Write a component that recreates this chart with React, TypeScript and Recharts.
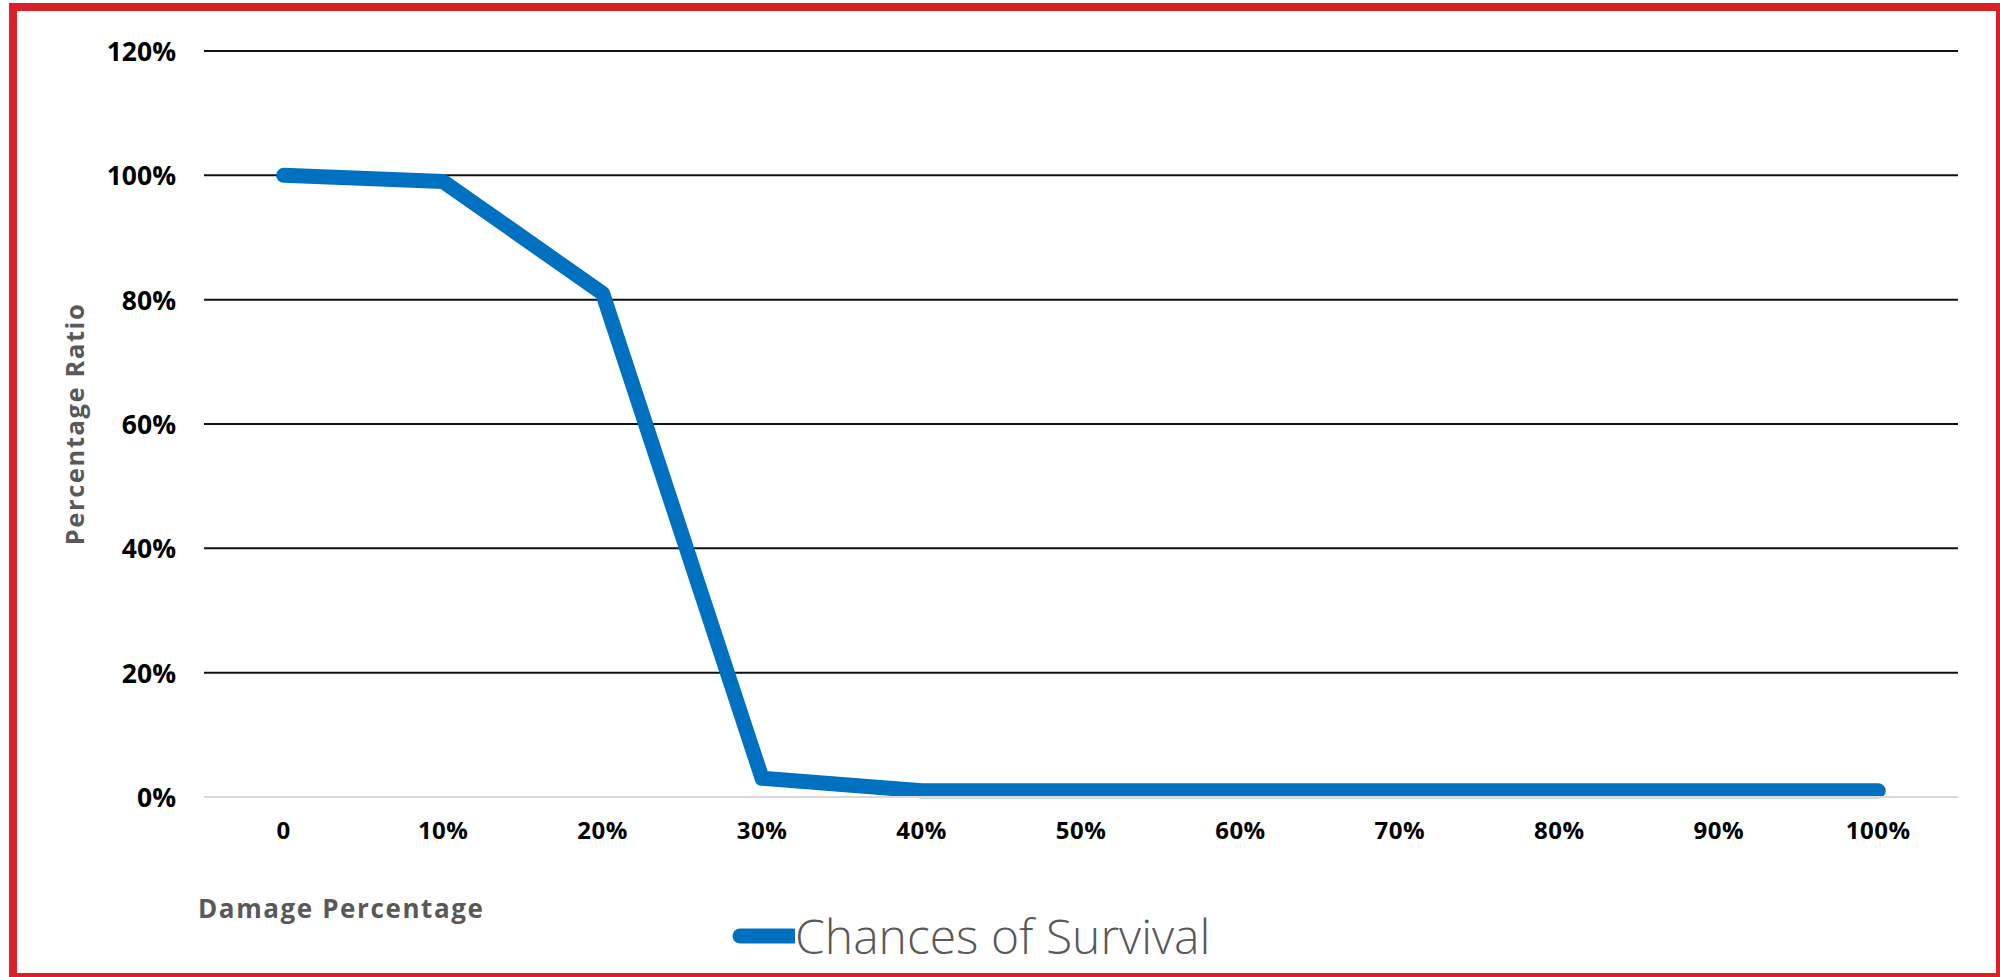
import React from 'react';
import { LineChart, Line, XAxis, YAxis, ReferenceLine } from 'recharts';

const damageLevels = ['0', '10%', '20%', '30%', '40%', '50%', '60%', '70%', '80%', '90%', '100%'];
const survival = [100, 99, 81, 3, 1, 1, 1, 1, 1, 1, 1];
const yTicks = [0, 20, 40, 60, 80, 100, 120];

const data = damageLevels.map((d, i) => ({ damage: d, survival: survival[i] }));

const font = '"Open Sans", sans-serif';
const blue = '#0070c0';
const grey = '#595959';

// plot spans x 204..1958, so each category band is 1754 / 11 wide
const halfBand = 1754 / 11 / 2;

const XTick = (p: any) => (
  <text x={p.x} y={p.y} textAnchor="middle" dominantBaseline="central" fontFamily={font} fontWeight={700} fontSize={24} letterSpacing={0.5} fill="#000">
    {p.payload.value}
  </text>
);

const YTick = (p: any) => (
  <text x={p.x} y={p.y} textAnchor="end" dominantBaseline="central" fontFamily={font} fontWeight={700} fontSize={26.5} fill="#000">
    {p.payload.value}%
  </text>
);

const XTitle = (p: any) => {
  const vb = p.viewBox;
  return (
    <text x={vb.x - 6} y={vb.y + 111} dominantBaseline="central" fontFamily={font} fontWeight={700} fontSize={26} letterSpacing={1.6} fill={grey}>
      Damage Percentage
    </text>
  );
};

const YTitle = (p: any) => {
  const vb = p.viewBox;
  const cx = 74;
  const cy = vb.y + vb.height / 2;
  return (
    <text x={cx} y={cy} transform={`rotate(-90 ${cx} ${cy})`} textAnchor="middle" dominantBaseline="central" fontFamily={font} fontWeight={700} fontSize={25.5} letterSpacing={1.6} fill={grey}>
      Percentage Ratio
    </text>
  );
};

export default function App() {
  return (
    <div style={{ position: 'absolute', left: 0, top: 0, width: 2000, height: 977, overflow: 'hidden', background: '#fff' }}>
      <div style={{ position: 'absolute', left: 9, top: 3, width: 1995, height: 978, border: '8px solid #db2128', boxSizing: 'border-box' }} />
      <LineChart width={2000} height={977} data={data} margin={{ top: 51, right: 42, bottom: 0, left: 0 }}>
        <XAxis
          dataKey="damage"
          height={180}
          padding={{ left: halfBand, right: halfBand }}
          tickLine={false}
          tickSize={0}
          tickMargin={32}
          axisLine={{ stroke: '#d9d9d9', strokeWidth: 2 }}
          tick={<XTick />}
          interval={0}
          label={<XTitle />}
        />
        <YAxis
          width={204}
          domain={[0, 120]}
          ticks={yTicks}
          axisLine={false}
          tickLine={false}
          tickSize={0}
          tickMargin={28}
          tick={<YTick />}
          label={<YTitle />}
        />
        {yTicks.filter((t) => t > 0).map((t) => (
          <ReferenceLine key={t} y={t} stroke="#111" strokeWidth={2} />
        ))}
        <Line
          type="linear"
          dataKey="survival"
          name="Chances of Survival"
          stroke={blue}
          strokeWidth={15}
          strokeLinecap="round"
          strokeLinejoin="round"
          dot={false}
          activeDot={false}
          isAnimationActive={false}
        />
      </LineChart>
      <div style={{ position: 'absolute', left: 731, top: 912, display: 'flex', alignItems: 'center' }}>
        <svg width={64} height={20}>
          <line x1={9} y1={10} x2={62} y2={10} stroke={blue} strokeWidth={15} strokeLinecap="round" />
        </svg>
        <span style={{ fontFamily: font, fontWeight: 300, fontSize: 48, color: grey, marginLeft: 0, lineHeight: 1 }}>Chances of Survival</span>
      </div>
    </div>
  );
}
